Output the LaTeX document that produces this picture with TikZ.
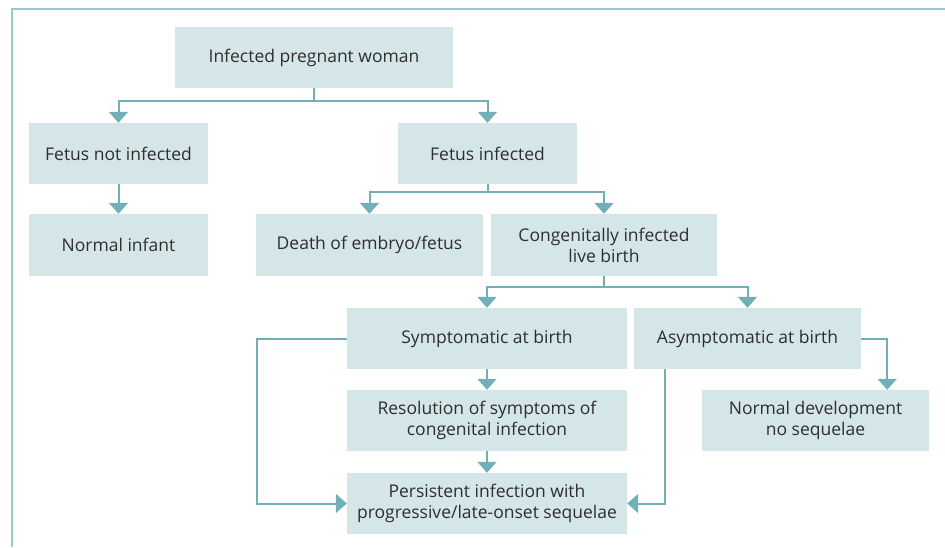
\documentclass[tikz,border=0pt]{standalone}
\usepackage{fontspec}
\setmainfont{Open Sans}
\usetikzlibrary{arrows.meta}
\definecolor{boxfill}{HTML}{D5E6E8}
\definecolor{linecol}{HTML}{72AFB6}
\definecolor{framecol}{HTML}{9CC6CB}
\definecolor{txt}{HTML}{2E2E2E}
\begin{document}
\begin{tikzpicture}[x=1pt,y=-1pt,
  box/.style={rectangle, fill=boxfill, inner sep=0pt, align=center, text=txt,
    font=\fontsize{17.5}{21}\selectfont},
  conn/.style={draw=linecol, line width=2pt},
  arr/.style={conn, -{Triangle[width=19pt,length=11pt]}}]
\useasboundingbox (0,0) rectangle (945,547);
\draw[framecol, line width=2pt] (12,547) -- (12,9) -- (945,9);

\node[box, minimum width=278pt, minimum height=61pt] (ipw) at (314,57.5) {Infected pregnant woman};
\node[box, minimum width=179pt, minimum height=61pt] (fni) at (118.5,153.5) {Fetus not infected};
\node[box, minimum width=179pt, minimum height=61pt] (fi) at (487.5,153.5) {Fetus infected};
\node[box, minimum width=179pt, minimum height=62pt] (ni) at (118.5,245) {Normal infant};
\node[box, minimum width=227pt, minimum height=62pt] (death) at (369.5,245) {Death of embryo/fetus};
\node[box, minimum width=226pt, minimum height=62pt] (clb) at (604,245) {Congenitally infected\\live birth};
\node[box, minimum width=280pt, minimum height=61pt] (sym) at (487,338.5) {Symptomatic at birth};
\node[box, minimum width=227pt, minimum height=61pt] (asym) at (747.5,338.5) {Asymptomatic at birth};
\node[box, minimum width=280pt, minimum height=61pt] (res) at (487,420.5) {Resolution of symptoms of\\congenital infection};
\node[box, minimum width=227pt, minimum height=61pt] (nd) at (815.5,420.5) {Normal development\\no sequelae};
\node[box, minimum width=280pt, minimum height=61pt] (pers) at (487,503.5) {Persistent infection with\\progressive/late-onset sequelae};

\draw[conn] (ipw.south) -- ++(0,13) coordinate (j1);
\draw[arr] (j1) -| (fni.north);
\draw[arr] (j1) -| (fi.north);
\draw[arr] (fni.south) -- (ni.north);
\draw[conn] (fi.south) -- ++(0,8) coordinate (j2);
\draw[arr] (j2) -| (death.north);
\draw[arr] (j2) -| (clb.north);
\draw[conn] (clb.south) -- ++(0,11) coordinate (j3);
\draw[arr] (j3) -| (sym.north);
\draw[arr] (j3) -| (asym.north);
\draw[arr] (sym.south) -- (res.north);
\draw[arr] (res.south) -- (pers.north);
\draw[arr] (sym.west) -- ++(-90,0) |- (pers.west);
\draw[arr] ([xshift=31pt]asym.south west) |- (pers.east);
\draw[arr] (asym.east) -| ([xshift=-42pt]nd.north east);
\end{tikzpicture}
\end{document}
